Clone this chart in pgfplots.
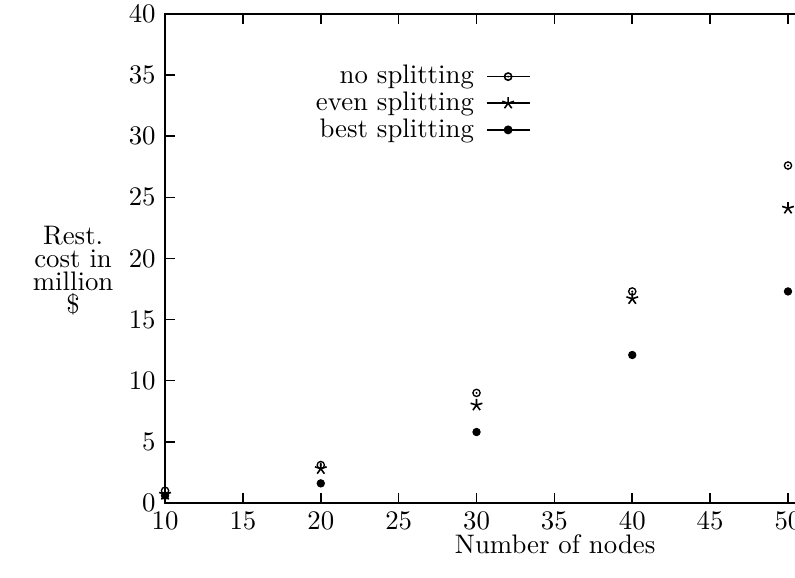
\documentclass[border=0pt]{standalone}
\usepackage{pgfplots}
\pgfplotsset{compat=1.18}
\pgfdeclareplotmark{odot}{%
  \pgfpathcircle{\pgfpointorigin}{\pgfplotmarksize}\pgfusepathqstroke
  \pgfpathcircle{\pgfpointorigin}{0.3\pgfplotmarksize}\pgfusepathqfill}
\begin{document}
\begin{tikzpicture}
\useasboundingbox (-61.6pt,-28pt) rectangle (235.1pt,187.7pt);
\begin{axis}[
  at={(0,0)}, anchor=south west,
  scale only axis, width=238.3pt, height=182.5pt,
  xmin=10, xmax=51, ymin=0, ymax=40,
  xtick={10,15,...,50}, ytick={0,5,...,40},
  tick align=inside, major tick length=3.7pt,
  ytick pos=left,
  axis line style={line width=0.6pt},
  every tick/.style={line width=0.6pt, black},
  clip=false,
  xlabel={Number of nodes},
  xlabel style={at={(ticklabel cs:0.611)}, anchor=north, yshift=5pt},
  ylabel={Rest.\\cost in\\million\\\$},
  ylabel style={rotate=-90, align=center, at={(axis description cs:-0.144,0.476)}, anchor=center, font=\fontsize{10}{8.6}\selectfont},
  legend plot pos=right,
  legend cell align=right,
  legend style={at={(axis description cs:0.574,0.907)}, anchor=north east, draw=none, fill=none, row sep=-2.5pt, column sep=2.5pt, inner sep=0pt},
  legend image code/.code={\draw[sharp plot, line width=0.6pt, mark repeat=2, mark phase=2] plot coordinates {(0cm,0cm) (0.28cm,0cm) (0.57cm,0cm)};},
]
\addplot[only marks, mark=odot, mark size=1.35pt, black, line width=0.5pt] coordinates {
  (10,1.0) (20,3.1) (30,9.0) (40,17.3) (50,27.6)};
\addlegendentry{no splitting}
\addplot[only marks, mark=star, mark size=2.3pt, black, line width=0.6pt] coordinates {
  (10,0.7) (20,2.8) (30,8.0) (40,16.7) (50,24.1)};
\addlegendentry{even splitting}
\addplot[only marks, mark=*, mark size=1.35pt, black] coordinates {
  (10,0.6) (20,1.6) (30,5.8) (40,12.1) (50,17.3)};
\addlegendentry{best splitting}
\end{axis}
\end{tikzpicture}
\end{document}
